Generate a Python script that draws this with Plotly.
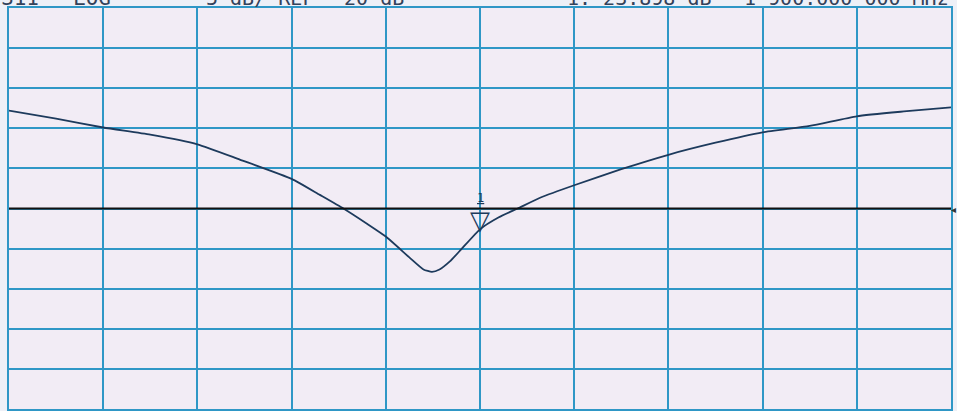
import plotly.graph_objects as go

# ---- data ----
freq_mhz = [1400, 1450, 1500, 1550, 1600, 1645, 1700, 1730, 1755, 1780, 1800,
            1825, 1840, 1849, 1857, 1868, 1880, 1900, 1920, 1940, 1965, 2000,
            2050, 2100, 2150, 2200, 2250, 2300, 2350, 2400]
s11_db = [-7.8, -8.8, -9.9, -10.8, -12.0, -13.9, -16.3, -18.3, -20.0, -21.9, -23.5,
          -26.1, -27.6, -27.9, -27.6, -26.6, -25.1, -22.6, -21.1, -20.0, -18.6, -17.1,
          -15.1, -13.3, -11.8, -10.5, -9.7, -8.5, -7.9, -7.4]

ref_db = -20
scale_db = 5
start_mhz = 1400
stop_mhz = 2400
marker_freq = 1900
marker_db = -22.6

header_left = ["S11", "LOG", "5 dB/ REF", "-20 dB"]
header_right = ["1:-23.898 dB", "1 900.000 000 MHz"]

grid_col = "#2f97c6"
trace_col = "#1d3a5c"
text_col = "#34425a"

fig = go.Figure()
fig.add_trace(go.Scatter(x=freq_mhz, y=s11_db, mode="lines",
                         line=dict(color=trace_col, width=1.8, shape="spline", smoothing=0.5),
                         hoverinfo="skip", showlegend=False))

# reference line
fig.add_shape(type="line", xref="x", yref="y", x0=start_mhz, x1=stop_mhz,
              y0=ref_db, y1=ref_db, line=dict(color="#111111", width=2), layer="above")

# marker symbol
fig.add_annotation(x=marker_freq, y=marker_db, xref="x", yref="y", text="▽",
                   showarrow=False, yanchor="bottom", xanchor="center", yshift=-8,
                   font=dict(size=26, color=trace_col, family="DejaVu Sans"))
fig.add_annotation(x=marker_freq, y=marker_db, xref="x", yref="y", text="<u>1</u>",
                   showarrow=False, yanchor="bottom", xanchor="center", yshift=22,
                   font=dict(size=12, color=trace_col, family="DejaVu Sans Mono"))
# reference position indicator on right edge
fig.add_annotation(x=1.0, y=ref_db, xref="paper", yref="y", text="◂",
                   showarrow=False, xanchor="left", yanchor="middle", xshift=-2,
                   font=dict(size=10, color="#333333"))

# clipped header text
plot_left, plot_w = 9, 942
hdr_px = [0, 72, 205, 331, 566, 743]
hdr_size = [21, 21, 20, 20, 20, 20]
hdr_txt = header_left + header_right
for px, t, sz in zip(hdr_px, hdr_txt, hdr_size):
    fig.add_annotation(x=(px - plot_left) / plot_w, y=1.0, xref="paper", yref="paper",
                       text=t, showarrow=False, xanchor="left", yanchor="bottom",
                       yshift=-3, borderpad=0,
                       font=dict(size=sz, color=text_col, family="DejaVu Sans Mono"))

axis_common = dict(showticklabels=False, ticks="", zeroline=False,
                   showgrid=True, gridcolor=grid_col, gridwidth=1.6,
                   showline=True, linecolor=grid_col, linewidth=2, mirror=True)
fig.update_xaxes(range=[start_mhz, stop_mhz], dtick=100, tick0=start_mhz, **axis_common)
fig.update_yaxes(range=[ref_db - 5 * scale_db, ref_db + 5 * scale_db], dtick=scale_db,
                 tick0=ref_db, **axis_common)

fig.update_layout(width=957, height=411,
                  margin=dict(l=9, r=6, t=8, b=2),
                  paper_bgcolor="#eef0f7", plot_bgcolor="#f2ecf5",
                  showlegend=False)

fig.write_html("out.html", config={"displayModeBar": False},
               post_script="document.body.style.margin='0';document.body.style.overflow='hidden';")
